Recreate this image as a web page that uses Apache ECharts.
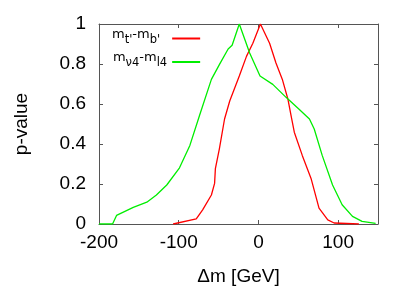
<!DOCTYPE html>
<html><head><meta charset="utf-8">
<script src="https://cdn.jsdelivr.net/npm/echarts@6/dist/echarts.min.js"></script>
<style>html,body{margin:0;padding:0;background:#fff}#c{width:415px;height:291px}</style>
</head><body><div id="c"></div>
<script>
// Data
const redX = [-107, -78, -70, -59, -55, -54, -49, -42.5, -36, -24, -15, -7, 2.5, 14, 22, 30, 37, 41, 45, 55, 66, 76, 87, 95, 126];
const redY = [0, 0.026, 0.071, 0.145, 0.203, 0.277, 0.376, 0.525, 0.615, 0.74, 0.838, 0.904, 1.0, 0.904, 0.805, 0.723, 0.624, 0.541, 0.459, 0.343, 0.228, 0.079, 0.021, 0.005, 0];
const greenX = [-200, -183, -178, -157, -140, -128, -115, -99, -86, -74, -59, -49, -38, -33, -24, -11, 2, 18, 35, 51, 64, 70, 80, 93, 105, 118, 130, 147];
const greenY = [0, 0, 0.043, 0.083, 0.109, 0.145, 0.195, 0.281, 0.393, 0.541, 0.723, 0.797, 0.875, 0.894, 1.0, 0.855, 0.74, 0.698, 0.632, 0.574, 0.525, 0.475, 0.343, 0.195, 0.096, 0.038, 0.013, 0.003];
const seriesNames = ["mt-mb", "mv4-ml4"];
const xTicks = { min: -200, max: 150, interval: 100 };
const yTicks = { min: 0, max: 1, interval: 0.2 };

const zip = (xs, ys) => xs.map((x, i) => [x, ys[i]]);
const FONT = "'Liberation Sans', Arial, sans-serif";
const LFONT = "'DejaVu Sans', sans-serif";
const frame = '#555';

const chart = echarts.init(document.getElementById('c'), null, { renderer: 'canvas' });
const baseAxis = {
  type: 'value',
  axisLine: { show: true, onZero: false, lineStyle: { color: frame, width: 1 } },
  axisTick: { show: true, inside: true, length: 4, lineStyle: { color: frame } },
  splitLine: { show: false },
  axisLabel: { color: '#000', fontSize: 19, fontFamily: FONT }
};
chart.setOption({
  animation: false,
  backgroundColor: '#fff',
  grid: { left: 99, top: 24, right: 37, bottom: 65 },
  legend: {
    orient: 'vertical',
    left: 112, top: 28, padding: 0,
    align: 'right',
    itemWidth: 28, itemHeight: 2, itemGap: 0,
    icon: 'rect',
    data: seriesNames,
    formatter: function (n) {
      if (n === seriesNames[0]) return "{m|m}{s|t'}{m|-m}{s|b'}{sp| }";
      return "{m|m}{s|ν4}{m|-m}{s|l4}";
    },
    textStyle: {
      color: '#000', fontFamily: LFONT, fontSize: 13, lineHeight: 20,
      rich: {
        m: { fontSize: 13, fontFamily: LFONT, color: '#000', lineHeight: 20, height: 12, verticalAlign: 'top' },
        s: { fontSize: 11.5, fontFamily: LFONT, color: '#000', lineHeight: 20, height: 23, verticalAlign: 'top' },
        sp: { fontSize: 11.5, lineHeight: 20, width: 7 }
      }
    }
  },
  xAxis: [
    Object.assign({}, baseAxis, {
      position: 'bottom', min: xTicks.min, max: xTicks.max, interval: xTicks.interval,
      name: 'Δm [GeV]', nameLocation: 'middle', nameGap: 43,
      nameTextStyle: { color: '#000', fontSize: 19, fontFamily: FONT },
      axisLabel: Object.assign({}, baseAxis.axisLabel, { margin: 9, showMaxLabel: false })
    }),
    Object.assign({}, baseAxis, {
      position: 'top', min: xTicks.min, max: xTicks.max, interval: xTicks.interval,
      axisLabel: { show: false }
    })
  ],
  yAxis: [
    Object.assign({}, baseAxis, {
      position: 'left', min: yTicks.min, max: yTicks.max, interval: yTicks.interval,
      name: 'p-value', nameLocation: 'middle', nameGap: 68, nameRotate: 90,
      nameTextStyle: { color: '#000', fontSize: 19, fontFamily: FONT },
      axisLabel: Object.assign({}, baseAxis.axisLabel, { margin: 13 })
    }),
    Object.assign({}, baseAxis, {
      position: 'right', min: yTicks.min, max: yTicks.max, interval: yTicks.interval,
      axisLabel: { show: false }
    })
  ],
  series: [
    { name: seriesNames[0], type: 'line', data: zip(redX, redY), showSymbol: false, symbol: 'none',
      lineStyle: { color: '#ff0000', width: 1.3 }, itemStyle: { color: '#ff0000' } },
    { name: seriesNames[1], type: 'line', data: zip(greenX, greenY), showSymbol: false, symbol: 'none',
      lineStyle: { color: '#00ee00', width: 1.3 }, itemStyle: { color: '#00ee00' } }
  ]
});
</script></body></html>
